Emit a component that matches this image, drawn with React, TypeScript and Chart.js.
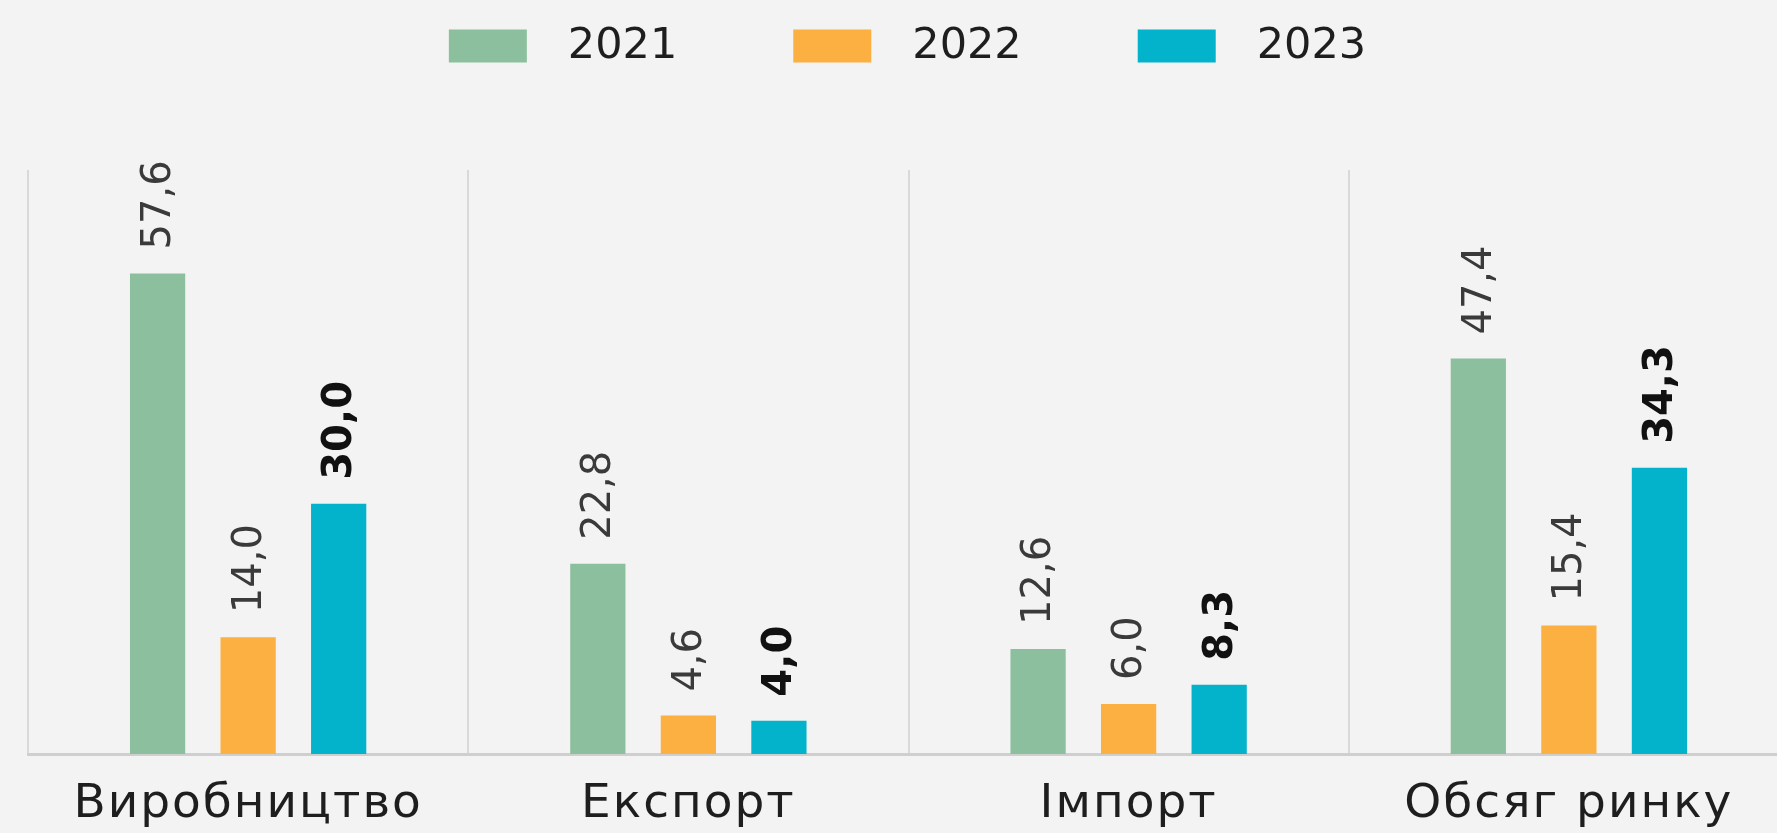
import React, { useEffect, useRef } from "react";
import { Chart, registerables } from "chart.js";

Chart.register(...registerables);

const categories = ["Виробництво", "Експорт", "Імпорт", "Обсяг ринку"];
const seriesNames = ["2021", "2022", "2023"];
const values2021 = [57.6, 22.8, 12.6, 47.4];
const values2022 = [14.0, 4.6, 6.0, 15.4];
const values2023 = [30.0, 4.0, 8.3, 34.3];
const seriesColors = ["#8cbf9d", "#fbb041", "#02b3cb"];
const boldSeries = [false, false, true];

const FONT = "'DejaVu Sans', sans-serif";
const CANVAS_W = 1830;
const CANVAS_H = 833;

const bgPlugin = {
  id: "bg",
  beforeDraw(chart: any) {
    const { ctx, width, height } = chart;
    ctx.save();
    ctx.fillStyle = "#f3f3f3";
    ctx.fillRect(0, 0, width, height);
    ctx.restore();
    // slightly wider letter spacing for axis labels (drawn before datasets)
    ctx.letterSpacing = "2px";
  },
  beforeDatasetsDraw(chart: any) {
    chart.ctx.letterSpacing = "0px";
  },
};

const valueLabelPlugin = {
  id: "valueLabels",
  afterDatasetsDraw(chart: any) {
    const { ctx } = chart;
    chart.data.datasets.forEach((ds: any, di: number) => {
      const meta = chart.getDatasetMeta(di);
      meta.data.forEach((bar: any, i: number) => {
        const v = ds.data[i] as number;
        const txt = v.toFixed(1).replace(".", ",");
        ctx.save();
        ctx.translate(bar.x + 2, bar.y - 24);
        ctx.rotate(-Math.PI / 2);
        ctx.textAlign = "left";
        ctx.textBaseline = "middle";
        ctx.font = `${boldSeries[di] ? "bold " : ""}40px ${FONT}`;
        ctx.fillStyle = boldSeries[di] ? "#111111" : "#3a3a3a";
        ctx.fillText(txt, 0, 0);
        ctx.restore();
      });
    });
  },
};

const legendPlugin = {
  id: "customLegend",
  afterDraw(chart: any) {
    const { ctx, chartArea } = chart;
    const boxW = 78;
    const boxH = 33;
    const gap = 41;
    const spacing = 116;
    const cy = 46;
    ctx.save();
    ctx.letterSpacing = "0px";
    ctx.font = `43px ${FONT}`;
    const widths = seriesNames.map((s) => boxW + gap + ctx.measureText(s).width);
    const total = widths.reduce((a, b) => a + b, 0) + spacing * (seriesNames.length - 1);
    let x = (chartArea.left + chartArea.right) / 2 - total / 2 - 1;
    seriesNames.forEach((s, i) => {
      ctx.fillStyle = seriesColors[i];
      ctx.fillRect(x, cy - boxH / 2, boxW, boxH);
      ctx.fillStyle = "#1e1e1e";
      ctx.textAlign = "left";
      ctx.textBaseline = "middle";
      ctx.fillText(s, x + boxW + gap, cy + 1);
      x += widths[i] + spacing;
    });
    ctx.restore();
  },
};

export default function App() {
  const ref = useRef<HTMLCanvasElement | null>(null);

  useEffect(() => {
    document.body.style.margin = "0";
    document.body.style.background = "#f3f3f3";
    const canvas = ref.current!;
    const seriesValues = [values2021, values2022, values2023];
    const chart = new Chart(canvas, {
      type: "bar",
      data: {
        labels: categories,
        datasets: seriesNames.map((name, i) => ({
          label: name,
          data: seriesValues[i],
          backgroundColor: seriesColors[i],
          borderWidth: 0,
          categoryPercentage: 0.617,
          barPercentage: 0.61,
        })),
      },
      options: {
        responsive: false,
        animation: false,
        layout: { padding: { left: 28, right: CANVAS_W - 1789, top: 170, bottom: 0 } },
        plugins: {
          legend: { display: false },
          tooltip: { enabled: false },
        },
        scales: {
          x: {
            afterFit: (scale: any) => {
              scale.height = 79;
            },
            grid: {
              display: true,
              offset: true,
              color: "#d9d9d9",
              lineWidth: 2,
              drawTicks: false,
            },
            border: { display: true, color: "#cfcfcf", width: 3 },
            ticks: {
              color: "#1e1e1e",
              font: { family: FONT, size: 47 },
              padding: 23,
              maxRotation: 0,
            },
          },
          y: {
            display: false,
            min: 0,
            max: 70,
          },
        },
      },
      plugins: [bgPlugin, valueLabelPlugin, legendPlugin],
    });
    return () => chart.destroy();
  }, []);

  return (
    <div
      style={{
        position: "fixed",
        left: 0,
        top: 0,
        width: 1777,
        height: 833,
        overflow: "hidden",
        background: "#f3f3f3",
      }}
    >
      <canvas
        ref={ref}
        width={CANVAS_W}
        height={CANVAS_H}
        style={{ width: CANVAS_W, height: CANVAS_H, display: "block" }}
      />
    </div>
  );
}
